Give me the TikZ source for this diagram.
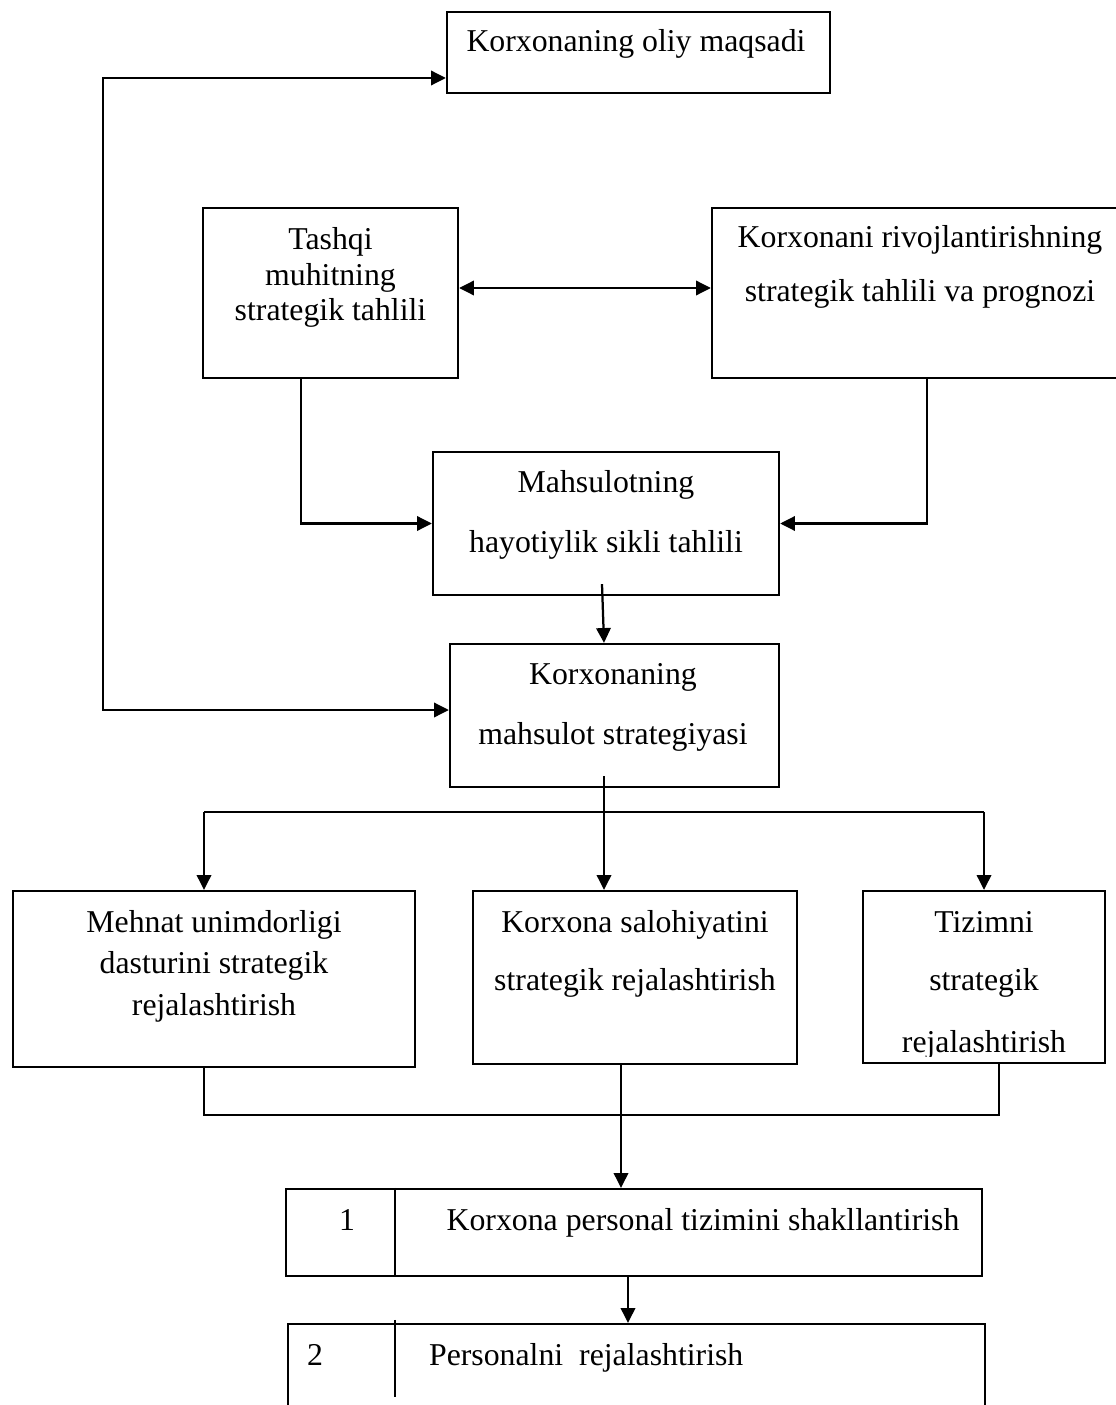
\documentclass[tikz,border=0pt]{standalone}
\usepackage{fontspec}
\setmainfont{Liberation Serif}
\usetikzlibrary{arrows.meta,calc}

\begin{document}
\begin{tikzpicture}[x=0.025cm, y=-0.025cm, line width=1.6pt,
    every node/.style={font=\fontsize{22.6pt}{27pt}\selectfont},
    box/.style={draw, rectangle, inner sep=0pt},
    ln/.style={anchor=base, inner sep=0pt},
    arr/.style={-{Triangle[length=0.37cm,width=0.36cm]}},
    arrs/.style={{Triangle[length=0.37cm,width=0.36cm]}-{Triangle[length=0.37cm,width=0.36cm]}}]
  \useasboundingbox (0,0) rectangle (1116,1405);
  \clip (0,0) rectangle (1116,1405);

  % Top goal
  \node[box, minimum width=9.575cm, minimum height=2.025cm] (oliy) at (638.5,52.5) {};
  \node[ln] (oliyT) at (636,52) {Korxonaning oliy maqsadi};

  % Analysis blocks
  \node[box, minimum width=6.375cm, minimum height=4.25cm] (tashqi) at (330.5,293) {};
  \node[ln] (tashqiA) at (330.5,249) {Tashqi};
  \node[ln] (tashqiB) at (330.5,285) {muhitning};
  \node[ln] (tashqiC) at (330.5,320) {strategik tahlili};

  \node[box, minimum width=10.7cm, minimum height=4.25cm] (rivoj) at (926,293) {};
  \node[ln] (rivojA) at (920,247) {Korxonani rivojlantirishning};
  \node[ln] (rivojB) at (920,302) {strategik tahlili va prognozi};

  \node[box, minimum width=8.65cm, minimum height=3.575cm] (mahsulot) at (606,523.5) {};
  \node[ln] (mahsulotA) at (606,492) {Mahsulotning};
  \node[ln] (mahsulotB) at (606,552) {hayotiylik sikli tahlili};

  \node[box, minimum width=8.225cm, minimum height=3.575cm] (strategiya) at (614.5,715.5) {};
  \node[ln] (strategiyaA) at (613,684) {Korxonaning};
  \node[ln] (strategiyaB) at (613,744) {mahsulot strategiyasi};

  % Planning blocks
  \node[box, minimum width=10.05cm, minimum height=4.4cm] (mehnat) at (214,979) {};
  \node[ln] (mehnatA) at (214,932) {Mehnat unimdorligi};
  \node[ln] (mehnatB) at (214,973) {dasturini strategik};
  \node[ln] (mehnatC) at (214,1015) {rejalashtirish};

  \node[box, minimum width=8.1cm, minimum height=4.325cm] (salohiyat) at (635,977.5) {};
  \node[ln] (salohiyatA) at (635,932) {Korxona salohiyatini};
  \node[ln] (salohiyatB) at (635,990) {strategik rejalashtirish};

  \node[box, minimum width=6.05cm, minimum height=4.3cm] (tizim) at (984,977) {};
  \node[ln] (tizimA) at (984,932) {Tizimni};
  \node[ln] (tizimB) at (984,990) {strategik};
  \begin{scope}
    \clip (tizim.north west) rectangle (1105,1056);
    \node[ln] (tizimC) at (984,1052) {rejalashtirish};
  \end{scope}

  % Personnel rows
  \node[box, minimum width=17.4cm, minimum height=2.175cm] (shakl) at (634,1232.5) {};
  \node[ln] (shaklN) at (347,1230) {1};
  \node[ln] (shaklT) at (703,1230) {Korxona personal tizimini shakllantirish};
  \draw ([xshift=2.75cm]shakl.north west) -- ([xshift=2.75cm]shakl.south west);

  \node[box, minimum width=17.425cm, minimum height=2.65cm] (personal) at (636.5,1377) {};
  \node[ln] (personalN) at (315,1365) {2};
  \node[ln, anchor=base west] (personalT) at (428,1365) {Personalni\ \ rejalashtirish};
  \draw ([xshift=2.7cm,yshift=0.075cm]personal.north west) -- ++(0,77);

  % Connectors
  \coordinate (loopTop) at (103,78);
  \coordinate (loopBot) at (103,710);
  \draw[arrs] (loopBot -| strategiya.west) -- (loopBot) -- (loopTop) -- (loopTop -| oliy.west);

  \draw[arrs] ([yshift=0.125cm]tashqi.east) -- ([yshift=0.125cm]rivoj.west);
  \draw[arr] (tashqi.south west) ++(99,0) |- (mahsulot.west);
  \draw[arr] (rivoj.south west) ++(216,0) |- (mahsulot.east);
  \draw[arr] ($(mahsulot.south)+(-4,-12)$) -- ($(strategiya.north)+(-10.5,0)$);

  \coordinate (brL) at (204,812);
  \coordinate (brM) at (604,812);
  \coordinate (brR) at (984,812);
  \draw[arr] ($(strategiya.south)+(-10.5,-12)$) -- (brM |- salohiyat.north);
  \draw (brL) -- (brR);
  \draw[arr] (brL) -- (brL |- mehnat.north);
  \draw[arr] (brR) -- (brR |- tizim.north);

  \coordinate (mgL) at (204,1115);
  \coordinate (mgM) at (621,1115);
  \coordinate (mgR) at (999,1115);
  \draw (mgL |- mehnat.south) -- (mgL) -- (mgR) -- (mgR |- tizim.south);
  \draw[arr] (mgM |- salohiyat.south) -- (mgM |- shakl.north);
  \draw[arr] ([xshift=-0.15cm]shakl.south) -- ([xshift=-0.15cm]shakl.south |- personal.north);
\end{tikzpicture}
\end{document}
